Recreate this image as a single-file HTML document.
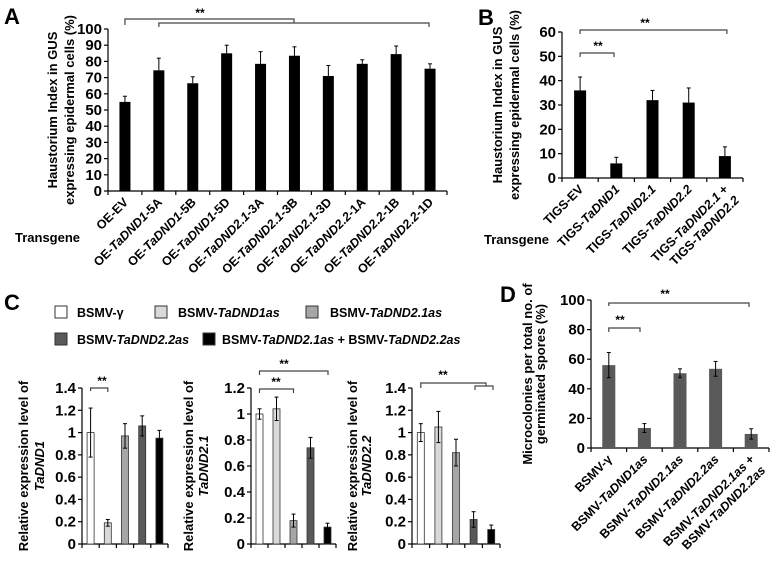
<!DOCTYPE html>
<html><head><meta charset="utf-8"><style>
html,body{margin:0;padding:0;background:#fff}
svg{display:block;font-family:"Liberation Sans",sans-serif;font-weight:bold}
</style></head><body>
<svg id="fig" width="776" height="567" viewBox="0 0 776 567" xmlns="http://www.w3.org/2000/svg">
<text x="4" y="24" font-size="22">A</text>
<text x="478" y="25" font-size="22">B</text>
<text x="4" y="310" font-size="22">C</text>
<text x="500" y="302" font-size="22">D</text>
<text x="15" y="242" font-size="13">Transgene</text>
<text x="484" y="244" font-size="13">Transgene</text>
<g id="legend" font-size="12.5">
 <rect x="55" y="306" width="12" height="12" fill="#fff" stroke="#333"/>
 <text x="77" y="317">BSMV-γ</text>
 <rect x="155" y="306" width="12" height="12" fill="#d9d9d9" stroke="#333"/>
 <text x="178" y="317">BSMV-<tspan font-style="italic">TaDND1as</tspan></text>
 <rect x="306" y="306" width="12" height="12" fill="#a6a6a6" stroke="#333"/>
 <text x="330" y="317">BSMV-<tspan font-style="italic">TaDND2.1as</tspan></text>
 <rect x="55" y="333" width="12" height="12" fill="#595959" stroke="#333"/>
 <text x="77" y="344">BSMV-<tspan font-style="italic">TaDND2.2as</tspan></text>
 <rect x="203" y="333" width="12" height="12" fill="#000" stroke="#333"/>
 <text x="222" y="344">BSMV-<tspan font-style="italic">TaDND2.1as</tspan> + BSMV-<tspan font-style="italic">TaDND2.2as</tspan></text>
</g>
</svg>
<script>
// Panel A data
const aCats=[["OE-EV",""],["OE-","TaDND1","-5A"],["OE-","TaDND1","-5B"],["OE-","TaDND1","-5D"],["OE-","TaDND2.1","-3A"],["OE-","TaDND2.1","-3B"],["OE-","TaDND2.1","-3D"],["OE-","TaDND2.2","-1A"],["OE-","TaDND2.2","-1B"],["OE-","TaDND2.2","-1D"]];
const aVals=[55,74.5,66.5,85,78.5,83.5,71,78.5,84.5,75.5];
const aErr=[3.5,7.5,4,5,7.5,5.5,6.5,2.5,5,3];
const aTicks=[0,10,20,30,40,50,60,70,80,90,100];
// Panel B data
const bCats=[["TIGS-EV",""],["TIGS-","TaDND1",""],["TIGS-","TaDND2.1",""],["TIGS-","TaDND2.2",""],["TIGS-","TaDND2.1"," +"]];
const bVals=[36,6,32,31,9];
const bErr=[5.5,2.5,4,6,3.8];
const bTicks=[0,10,20,30,40,50,60];
// Panel C data
const c1Vals=[1.0,0.19,0.97,1.06,0.95];
const c1Err=[0.22,0.03,0.11,0.09,0.07];
const c1Ticks=[0,0.2,0.4,0.6,0.8,1,1.2,1.4];
const c2Vals=[1.0,1.04,0.18,0.74,0.13];
const c2Err=[0.04,0.09,0.05,0.08,0.03];
const c2Ticks=[0,0.2,0.4,0.6,0.8,1,1.2];
const c3Vals=[1.0,1.05,0.82,0.22,0.13];
const c3Err=[0.08,0.14,0.12,0.07,0.04];
const c3Ticks=[0,0.2,0.4,0.6,0.8,1,1.2,1.4];
const cColors=["#fff","#d9d9d9","#a6a6a6","#595959","#000"];
// Panel D data
const dCats=[["BSMV-γ",""],["BSMV-","TaDND1as",""],["BSMV-","TaDND2.1as",""],["BSMV-","TaDND2.2as",""],["BSMV-","TaDND2.1as"," +"]];
const dVals=[56,13.5,50.5,53.5,9.5];
const dErr=[8.5,3,3,5,3.5];
const dTicks=[0,20,40,60,80,100];

const NS="http://www.w3.org/2000/svg";
const svg=document.getElementById('fig');
function mk(tag,attrs,parent){const e=document.createElementNS(NS,tag);for(const k in attrs)e.setAttribute(k,attrs[k]);(parent||svg).appendChild(e);return e;}
function line(x1,y1,x2,y2,p,c,w){return mk('line',{x1,y1,x2,y2,stroke:c||'#000','stroke-width':w||1.2},p);}

function chart(name,cfg,vals,errs,ticks,cats,fills){
  const g=mk('g',{});
  
  
  const n=vals.length, cw=(cfg.x1-cfg.x0)/n;
  const ys=v=>cfg.y0-(v-cfg.min)/(cfg.max-cfg.min)*(cfg.y0-cfg.yTop);
  const xs=i=>cfg.x0+cw*(i+0.5);
  line(cfg.x0,cfg.yTop,cfg.x0,cfg.y0,g);
  line(cfg.x0,cfg.y0,cfg.x1,cfg.y0,g);
  ticks.forEach(t=>{
    const y=ys(t);
    line(cfg.x0-4,y,cfg.x0,y,g);
    const tx=mk('text',{x:cfg.x0-6,y:y+5,'font-size':cfg.tf||15,'text-anchor':'end'},g);
    
    
    tx.textContent=t;
  });
  for(let i=0;i<=n;i++) line(cfg.x0+cw*i,cfg.y0,cfg.x0+cw*i,cfg.y0+4,g);
  vals.forEach((v,i)=>{
    const cx=xs(i);
    const r=mk('rect',{x:cx-cfg.bw/2,y:ys(v),width:cfg.bw,height:cfg.y0-ys(v),fill:fills?fills[i]:cfg.fill,stroke:fills?'#333':'none','stroke-width':0.8},g);
    
    
    const e=errs[i];
    const lo=cfg.upOnly?v:v-e;
    line(cx,ys(lo),cx,ys(v+e),g,'#000',1);
    line(cx-2,ys(v+e),cx+2,ys(v+e),g,'#000',1);
    if(!cfg.upOnly) line(cx-2,ys(v-e),cx+2,ys(v-e),g,'#000',1);
  });
  if(cats){
    cats.forEach((c,i)=>{
      const cx=xs(i)+4, cy=cfg.y0+12;
      const t=mk('text',{x:cx,y:cy,'font-size':cfg.lf||12.5,'text-anchor':'end',transform:`rotate(-45 ${cx} ${cy})`},g);
      
      
      if(c.length===2){t.textContent=c[0];}
      else{
        const a=mk('tspan',{},t);a.textContent=c[0];
        const b=mk('tspan',{'font-style':'italic'},t);b.textContent=c[1];
        const d=mk('tspan',{},t);d.textContent=c[2];
      }
    });
  }
  const tx=cfg.tx, ty=(cfg.yTop+cfg.y0)/2;
  cfg.title.forEach((ln,k)=>{
    const t=mk('text',{x:tx+k*cfg.tgap,y:ty,'font-size':13,'text-anchor':'middle',transform:`rotate(-90 ${tx+k*cfg.tgap} ${ty})`,'font-style':ln.it?'italic':'normal'},g);
    
    
    t.textContent=ln.t;
  });
  return {xs,ys,g};
}
function bracket(g,x1,x2,y,drop1,drop2,sx,sy){
  const p=mk('path',{d:`M${x1} ${y+drop1} V${y} H${x2} V${y+drop2}`,fill:'none',stroke:'#444','stroke-width':1.2},g);
  
  
  const t=mk('text',{x:sx,y:sy,'font-size':12,'text-anchor':'middle'},g);
  
  
  t.textContent='**';
}
function line2(x,y,pre,it){
  const t=mk('text',{x:x,y:y,'font-size':12.5,'text-anchor':'end',transform:`rotate(-45 ${x} ${y})`});
  
  
  const a=mk('tspan',{},t);a.textContent=pre;
  const b=mk('tspan',{'font-style':'italic'},t);b.textContent=it;
}

const A=chart('panel-a-chart',{x0:108,x1:447,y0:191,yTop:29,min:0,max:100,bw:11,fill:'#000',upOnly:true,tx:57,tgap:17,title:[{t:'Haustorium Index in GUS'},{t:'expressing  epidermal cells (%)'}]},aVals,aErr,aTicks,aCats);
bracket(A.g,A.xs(0),294,19,6,4,200,17);
bracket(A.g,A.xs(1),429,23,4,4,0,-50);
const B=chart('panel-b-chart',{x0:562,x1:743,y0:178,yTop:32,min:0,max:60,bw:12,fill:'#000',upOnly:true,tx:502,tgap:17,title:[{t:'Haustorium Index in GUS'},{t:'expressing  epidermal cells (%)'}]},bVals,bErr,bTicks,bCats);
bracket(B.g,B.xs(0),B.xs(4)+2,30,4,4,645,27);
bracket(B.g,B.xs(0),614,53,4,4,598,50);
line2(B.xs(4)+15,201,'TIGS-','TaDND2.2');
const C1=chart('panel-c1-chart',{x0:82,x1:168,y0:544,yTop:388,min:0,max:1.4,bw:7,tx:28,tgap:16,title:[{t:'Relative expression level of'},{t:'TaDND1',it:true}]},c1Vals,c1Err,c1Ticks,null,cColors);
bracket(C1.g,C1.xs(0),C1.xs(1),388,3,4,102,385);
const C2=chart('panel-c2-chart',{x0:251,x1:336,y0:544,yTop:388,min:0,max:1.2,bw:7,tx:193,tgap:15,title:[{t:'Relative expression level of'},{t:'TaDND2.1',it:true}]},c2Vals,c2Err,c2Ticks,null,cColors);
bracket(C2.g,C2.xs(0),328,371,4,4,284,368);
bracket(C2.g,C2.xs(0),C2.xs(2),389,4,4,276,386);
const C3=chart('panel-c3-chart',{x0:412,x1:500,y0:544,yTop:388,min:0,max:1.4,bw:7,tx:357,tgap:14,title:[{t:'Relative expression level of'},{t:'TaDND2.2',it:true}]},c3Vals,c3Err,c3Ticks,null,cColors);
bracket(C3.g,C3.xs(0),486,383,5,3,443,379);
bracket(C3.g,475,493,386,4,4,0,-50);
const D=chart('panel-d-chart',{x0:591,x1:769,y0:448,yTop:300,min:0,max:100,bw:13,fill:'#595959',tx:532,tgap:13,title:[{t:'Microcolonies per total no. of'},{t:'germinated spores (%)'}]},dVals,dErr,dTicks,dCats);
bracket(D.g,D.xs(0),749,303,3,4,665,298);
bracket(D.g,D.xs(0),640,328,4,4,620,324);
line2(D.xs(4)+15,471,'BSMV-','TaDND2.2as');
</script>
</body></html>
